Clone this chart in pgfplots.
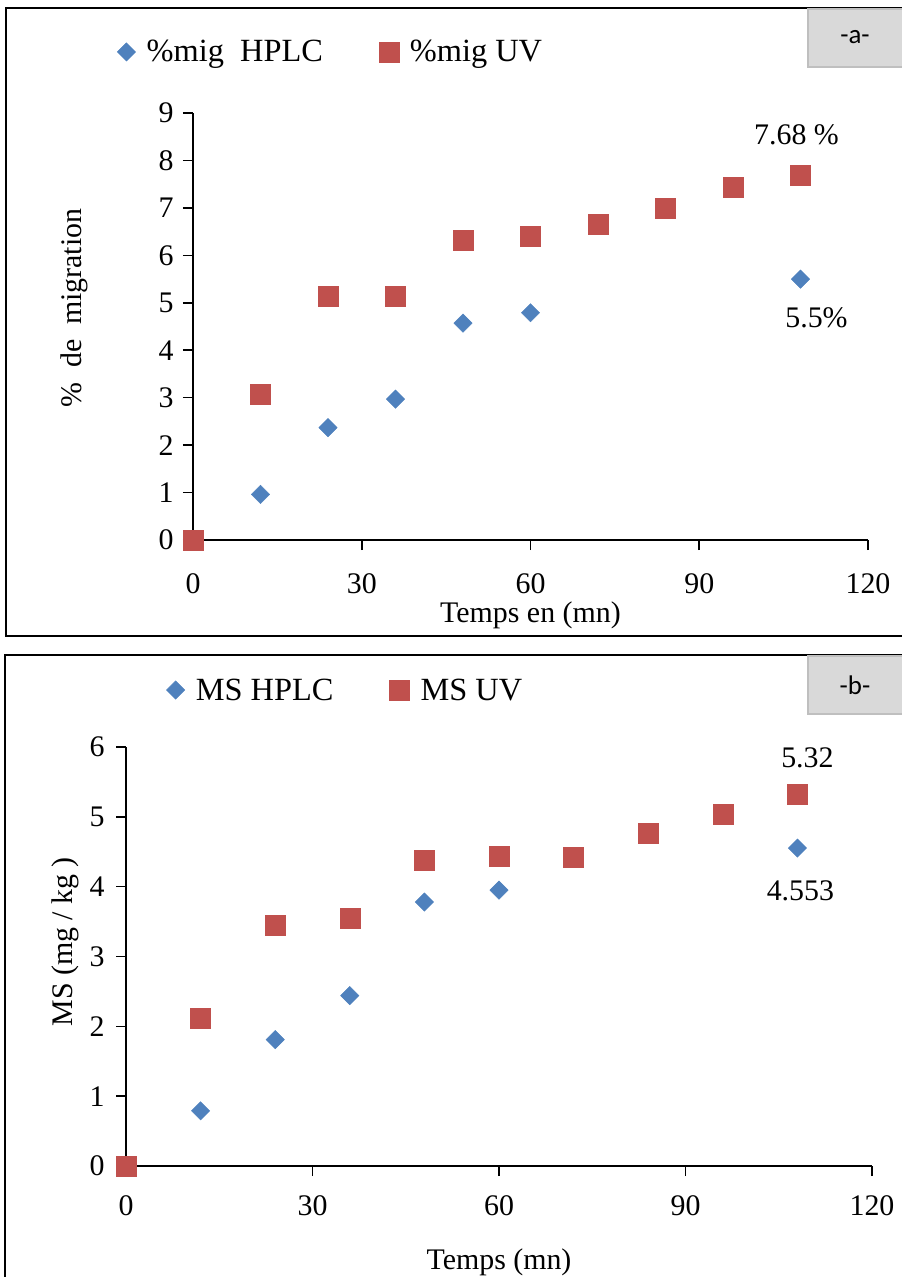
\documentclass[border=0pt]{standalone}
\usepackage{pgfplots}
\pgfplotsset{compat=1.18}
\usepackage{fontspec}
\setmainfont{Liberation Serif}
\newfontfamily\calibri{Carlito}
\definecolor{hblue}{HTML}{4F81BD}
\definecolor{ured}{HTML}{C0504D}
\definecolor{boxfill}{HTML}{D9D9D9}
\definecolor{boxdraw}{HTML}{BFBFBF}
\newcommand{\bigf}{\fontsize{30}{32}\selectfont}
\newcommand{\legf}{\fontsize{32.5}{34}\selectfont}
\pgfplotsset{
 common/.style={
  scale only axis,
  axis lines=left,
  axis line style={-, line width=1.6bp},
  tick align=outside,
  major tick length=10bp,
  every tick/.style={black, line width=1.6bp},
  tick label style={font=\bigf},
  /pgf/number format/assume math mode=true,
  xmin=0, xmax=120, xtick={0,30,...,120},
  ymin=0,
  clip=false,
  label style={font=\bigf},
  legend style={draw=none, fill=none, font=\legf, legend columns=2,
    /tikz/every odd column/.append style={column sep=9bp},
    /tikz/every even column/.append style={column sep=54bp}},
 },
 hplc/.style={only marks, mark=square*, mark size=6.5bp,
   mark options={rotate=45, fill=hblue, draw=hblue}},
 uv/.style={only marks, mark=square*, mark size=10bp,
   mark options={fill=ured, draw=ured}},
}
\begin{document}
\begin{tikzpicture}
\useasboundingbox (0,0) rectangle (902bp,-1277bp);
% frames
\draw[line width=2.5bp] (6bp,-8bp) rectangle (912bp,-636bp);
\draw[line width=2.5bp] (5bp,-655bp) rectangle (912bp,-1290bp);
% panel tags
\draw[fill=boxfill, draw=boxdraw, line width=1.5bp] (808bp,-9bp) rectangle (906bp,-67bp);
\node[font=\calibri\fontsize{27}{28}\selectfont] at (855bp,-37bp) {-a-};
\draw[fill=boxfill, draw=boxdraw, line width=1.5bp] (808bp,-656bp) rectangle (906bp,-714bp);
\node[font=\calibri\fontsize{27}{28}\selectfont] at (855bp,-685bp) {-b-};

% ---------- panel a ----------
\begin{axis}[common,
  at={(193bp,-540bp)}, anchor=south west,
  width=675bp, height=427bp,
  ymax=9, ytick={0,1,...,9},
  xticklabel style={yshift=-20bp},
  yticklabel style={xshift=-6bp},
  xlabel={Temps en (mn)},
  xlabel style={at={(axis description cs:0.5,-0.176)}, anchor=center},
  ylabel={\%~~de~~migration},
  ylabel style={at={(axis description cs:-0.176,0.543)}, anchor=center},
  legend style={at={(axis description cs:0.204,1.143)}, anchor=center},
]
\addplot[hplc] coordinates {(0,0) (12,0.96) (24,2.37) (36,2.97) (48,4.57) (60,4.79) (108,5.5)};
\addlegendentry{\%mig~~HPLC}
\addplot[uv] coordinates {(0,0) (12,3.07) (24,5.14) (36,5.13) (48,6.31) (60,6.40) (72,6.65) (84,7.00) (96,7.44) (108,7.68)};
\addlegendentry{\%mig UV}
\node[font=\bigf] at (axis cs:108,7.68) [xshift=-4bp, yshift=41bp] {7.68 \%};
\node[font=\bigf] at (axis cs:108,5.5) [xshift=16bp, yshift=-39bp] {5.5\%};
\end{axis}

% ---------- panel b ----------
\begin{axis}[common,
  at={(126bp,-1166bp)}, anchor=south west,
  width=746bp, height=419bp,
  ymax=6, ytick={0,1,...,6},
  xticklabel style={yshift=-16bp},
  yticklabel style={xshift=-8bp},
  xlabel={Temps (mn)},
  xlabel style={at={(axis description cs:0.5,-0.229)}, anchor=center},
  ylabel={MS (mg / kg )},
  ylabel style={at={(axis description cs:-0.0818,0.535)}, anchor=center},
  legend style={at={(axis description cs:0.294,1.136)}, anchor=center},
]
\addplot[hplc] coordinates {(0,0) (12,0.79) (24,1.81) (36,2.44) (48,3.78) (60,3.95) (108,4.553)};
\addlegendentry{MS HPLC}
\addplot[uv] coordinates {(0,0) (12,2.11) (24,3.45) (36,3.55) (48,4.38) (60,4.43) (72,4.42) (84,4.77) (96,5.04) (108,5.32)};
\addlegendentry{MS UV}
\node[font=\bigf] at (axis cs:108,5.32) [xshift=10bp, yshift=37bp] {5.32};
\node[font=\bigf] at (axis cs:108,4.553) [xshift=3bp, yshift=-43bp] {4.553};
\end{axis}
\end{tikzpicture}
\end{document}
